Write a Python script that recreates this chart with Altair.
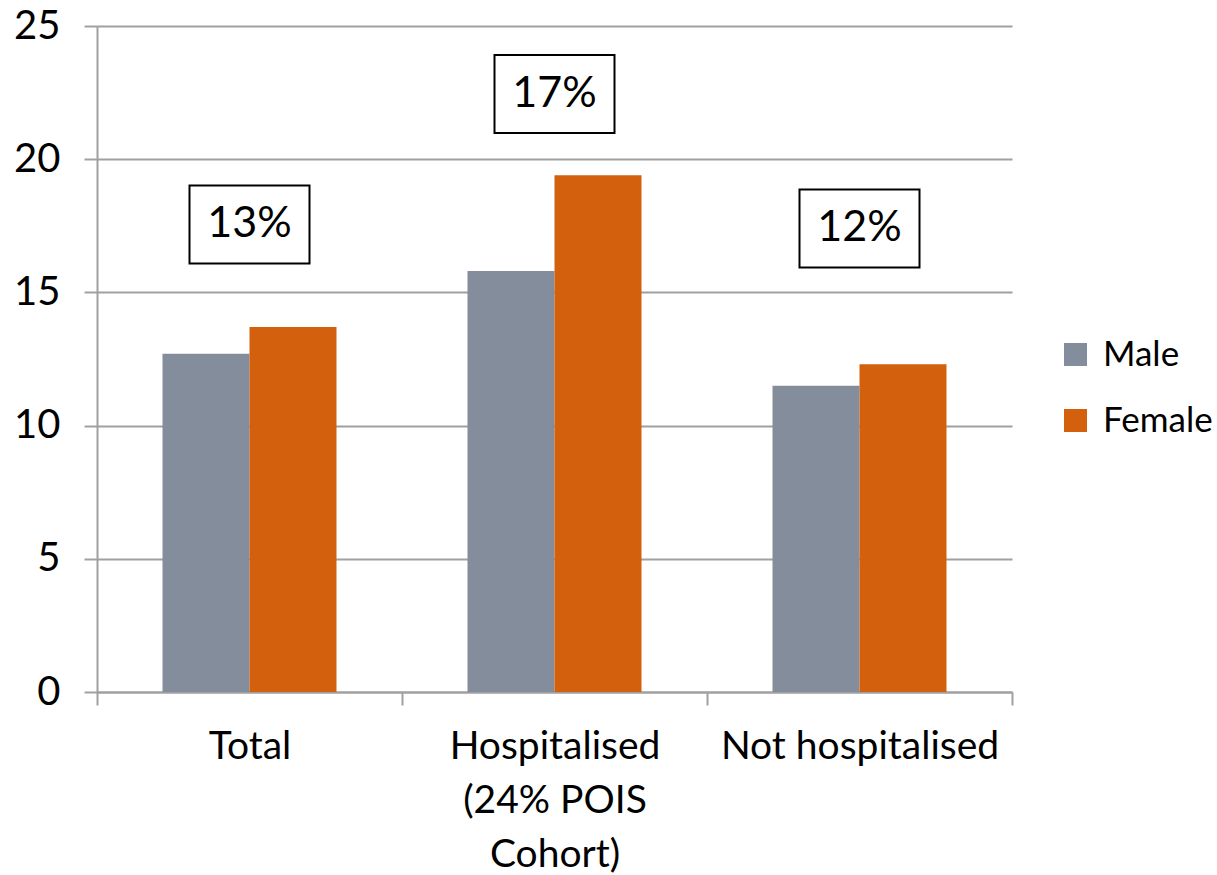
import altair as alt
import pandas as pd

categories = ["Total", "Hospitalised|(24% POIS|Cohort)", "Not hospitalised"]
groups = ["Male", "Female"]
male_values = [12.7, 15.8, 11.5]
female_values = [13.7, 19.4, 12.3]
box_labels = ["13%", "17%", "12%"]
box_levels = [17.55, 22.45, 17.4]
y_ticks = [0, 5, 10, 15, 20, 25]
colors = ["#848D9B", "#D2600C"]

rows = []
for c, m, f in zip(categories, male_values, female_values):
    rows.append({"category": c, "sex": "Male", "value": m})
    rows.append({"category": c, "sex": "Female", "value": f})
bars_df = pd.DataFrame(rows)
boxes_df = pd.DataFrame({"category": categories, "value": box_levels, "label": box_labels})

FONT = "Lato"
GRID = "#A0A0A0"

x_enc = alt.X(
    "category:N",
    sort=categories,
    scale=alt.Scale(paddingInner=0, paddingOuter=0),
    axis=alt.Axis(
        title=None, labelAngle=0, tickBand="extent",
        labelExpr="split(datum.label, '|')", labelLimit=0,
        labelFont=FONT, labelFontSize=39, labelColor="black",
        labelLineHeight=54, labelPadding=22, labelBaseline="top",
        tickSize=13, tickColor=GRID, tickWidth=2,
        domainColor=GRID, domainWidth=2, grid=False,
    ),
)
y_enc = alt.Y(
    "value:Q",
    scale=alt.Scale(domain=[0, 25], nice=False),
    axis=alt.Axis(
        title=None, values=y_ticks, grid=True, gridColor=GRID, gridWidth=2,
        tickSize=13, tickColor=GRID, tickWidth=2,
        domainColor=GRID, domainWidth=2,
        labelFont=FONT, labelFontSize=40, labelColor="black", labelPadding=24,
    ),
)

bars = alt.Chart(bars_df).mark_bar(size=87).encode(
    x=x_enc,
    y=y_enc,
    xOffset=alt.XOffset("sex:N", sort=groups,
                        scale=alt.Scale(paddingOuter=0.753, paddingInner=0)),
    color=alt.Color(
        "sex:N", sort=groups,
        scale=alt.Scale(domain=groups, range=colors),
        legend=alt.Legend(
            title=None, orient="none", legendX=961, legendY=311, padding=0,
            symbolType="square", symbolSize=529, symbolStrokeWidth=0,
            labelFont=FONT, labelFontSize=35, labelColor="black",
            labelOffset=10, rowPadding=30,
        ),
    ),
)

box_shape = "M-1,-0.65L1,-0.65L1,0.65L-1,0.65Z"
boxes = alt.Chart(boxes_df).mark_point(
    shape=box_shape, size=14400, filled=False, fill="white", fillOpacity=1,
    stroke="black", strokeWidth=2, opacity=1,
).encode(x=alt.X("category:N", sort=categories), y=alt.Y("value:Q"))

texts = alt.Chart(boxes_df).mark_text(
    font=FONT, fontSize=43, color="black", baseline="middle", align="center",
).encode(x=alt.X("category:N", sort=categories), y=alt.Y("value:Q"), text="label:N")

chart = alt.layer(bars, boxes, texts).properties(
    width=915, height=666,
    autosize=alt.AutoSizeParams(type="none"),
    padding={"left": 97, "top": 26, "right": 205, "bottom": 183},
    background="white",
).configure_view(stroke=None)

chart.save("out.html", embed_options={"renderer": "svg", "actions": False})
